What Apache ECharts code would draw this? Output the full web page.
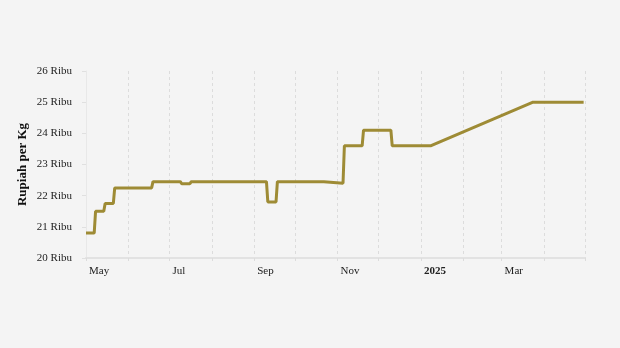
<!DOCTYPE html>
<html>
<head>
<meta charset="utf-8">
<script src="https://cdn.jsdelivr.net/npm/echarts@6/dist/echarts.min.js"></script>
<style>
html,body{margin:0;padding:0;background:#f4f4f4;}
#c{width:620px;height:348px;}
</style>
</head>
<body>
<div id="c"></div>
<script>
const dates = [
  '2024-05-01','2024-05-07','2024-05-08','2024-05-14','2024-05-15','2024-05-21','2024-05-22',
  '2024-06-18','2024-06-19','2024-07-09','2024-07-10','2024-07-16','2024-07-17',
  '2024-09-10','2024-09-11','2024-09-17','2024-09-18','2024-10-22','2024-10-23',
  '2024-11-05','2024-11-06','2024-11-19','2024-11-20','2024-12-10','2024-12-11',
  '2025-01-08','2025-03-24','2025-04-30'
];
const prices = [
  20.8,20.8,21.5,21.5,21.75,21.75,22.25,
  22.25,22.45,22.45,22.38,22.38,22.45,
  22.45,21.8,21.8,22.45,22.45,22.4,
  22.4,23.6,23.6,24.1,24.1,23.6,
  23.6,25.0,25.0
];
const yTicks = [20,21,22,23,24,25,26];
const monthNames = ['Jan','Feb','Mar','Apr','May','Jun','Jul','Aug','Sep','Oct','Nov','Dec'];
const yAxisTitle = 'Rupiah per Kg';

const font = '"Liberation Serif", "Times New Roman", serif';
const chart = echarts.init(document.getElementById('c'));
chart.setOption({
  backgroundColor: '#f4f4f4',
  animation: false,
  grid: {left: 86, right: 35, top: 71, bottom: 90},
  xAxis: {
    type: 'time',
    min: '2024-05-01',
    max: '2025-05-01',
    splitNumber: 12,
    minInterval: 28*86400000,
    maxInterval: 31*86400000,
    axisLine: {show: true, lineStyle: {color: '#e2e2e2', width: 2}},
    axisTick: {show: true, length: 5, lineStyle: {color: '#dcdcdc', type: [3,3]}},
    splitLine: {show: true, lineStyle: {color: '#dcdcdc', type: [3,3], width: 1}},
    axisLabel: {
      margin: 8,
      align: 'left',
      padding: [0,0,0,3],
      color: '#222',
      fontFamily: font,
      fontSize: 11,
      showMinLabel: true,
      formatter: function (v) {
        const d = new Date(v);
        const m = d.getMonth();
        if (m % 2 === 1) return '';
        if (d.getFullYear() === 2025 && m === 4) return '';
        if (m === 0) return '{b|' + d.getFullYear() + '}';
        return monthNames[m];
      },
      rich: {b: {fontWeight: 'bold', fontFamily: font, fontSize: 11, color: '#222'}}
    }
  },
  yAxis: {
    type: 'value',
    min: 20, max: 26, interval: 1,
    name: yAxisTitle,
    nameLocation: 'middle',
    nameRotate: 90,
    nameGap: 57,
    nameMoveOverlap: false,
    nameTextStyle: {fontFamily: font, fontSize: 13, fontWeight: 'bold', color: '#111'},
    axisLine: {show: true, lineStyle: {color: '#e8e8e8', width: 1}},
    axisTick: {show: true, length: 4, lineStyle: {color: '#e0e0e0'}},
    splitLine: {show: false},
    axisLabel: {
      margin: 14,
      color: '#222',
      fontFamily: font,
      fontSize: 11,
      formatter: function (v) { return yTicks.indexOf(v) >= 0 ? v + ' Ribu' : ''; }
    }
  },
  series: [{
    type: 'line',
    data: dates.map((d, i) => [d, prices[i]]),
    showSymbol: false,
    lineStyle: {color: '#9e8b35', width: 3},
    itemStyle: {color: '#9e8b35'}
  }]
});
</script>
</body>
</html>
